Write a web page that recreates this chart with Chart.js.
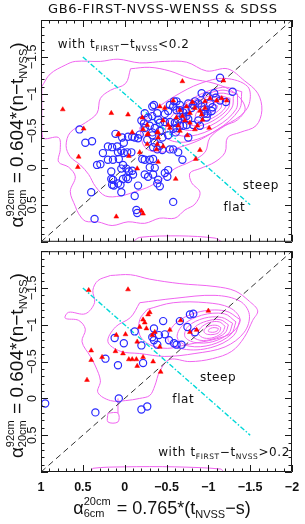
<!DOCTYPE html>
<html>
<head>
<meta charset="utf-8">
<script src="https://cdn.jsdelivr.net/npm/chart.js@4.4.1/dist/chart.umd.min.js"></script>
<style>
  body { margin: 0; background: #fff; }
  #wrap { position: relative; width: 305px; height: 524px; }
  canvas { position: absolute; left: 0; }
  #top { top: 0; }
  #bot { top: 246px; }
</style>
</head>
<body>
<div id="wrap">
  <canvas id="top" width="305" height="247"></canvas>
  <canvas id="bot" width="305" height="278"></canvas>
</div>
<script>
// ---- data (x = alpha 6cm-20cm, y = alpha 20cm-92cm) ----
const xTickValues = [1, 0.5, 0, -0.5, -1, -1.5, -2]
const xTickLabels = ['1', '0.5', '0', '\u22120.5', '\u22121', '\u22121.5', '\u22122']
const yTickValues = [-1.5, -1, -0.5, 0, 0.5]
const yTickLabels = ['\u22121.5', '\u22121', '\u22120.5', '0', '0.5']

const diagonal = [[1, 1], [-2, -2]]
const cutLine = [[0.5, -1.5], [-1.5, 0.5]]

// top panel: t_FIRST - t_NVSS < 0.2
const topBlue = [
  [-1.14,-1.22],[-1.29,-1.03],[-0.92,-1.01],[-0.98,-0.97],[-1.07,-1.01],[-1.09,-0.95],[-1.14,-0.91],[-1.21,-0.89],
  [-1.02,-0.87],[-1.05,-0.82],[-1.04,-0.77],[-0.99,-0.73],[-0.98,-0.68],[-0.95,-0.79],[-0.95,-0.73],[-0.88,-0.87],
  [-0.92,-0.83],[-0.84,-0.90],[-0.82,-0.85],[-0.76,-0.87],[-0.80,-0.81],[-0.88,-0.64],[-0.82,-0.58],[-0.90,-0.57],
  [-0.59,-0.90],[-0.62,-0.90],[-0.54,-0.85],[-0.58,-0.83],[-0.66,-0.85],[-0.62,-0.78],[-0.35,-0.85],[-0.39,-0.74],
  [-0.33,-0.70],[-0.48,-0.73],[-0.52,-0.77],[-0.66,-0.78],[-0.70,-0.75],[-0.73,-0.78],[-0.74,-0.70],[-0.70,-0.69],
  [-0.76,-0.66],[-0.74,-0.58],[-0.70,-0.57],[-0.66,-0.57],[-0.62,-0.54],[-0.58,-0.53],[-0.60,-0.61],[-0.64,-0.65],
  [-0.54,-0.62],[-0.48,-0.62],[-0.42,-0.61],[-0.40,-0.65],[-0.28,-0.68],[-0.20,-0.64],[-0.23,-0.60],[-0.24,-0.74],
  [-0.33,-0.83],[-0.24,-0.54],[-0.30,-0.57],[-0.36,-0.54],[-0.42,-0.50],[-0.33,-0.48],[-0.45,-0.41],[-0.52,-0.44],
  [-0.61,-0.48],[-0.76,-0.41],[-0.58,-0.25],[-0.69,-0.11],
  [0.54,-0.52],[0.47,-0.34],[0.39,-0.36],[0.33,-0.04],[0.29,-0.05],[0.26,-0.20],[0.20,-0.29],[0.15,-0.28],
  [0.20,-0.11],[0.14,-0.11],[0.07,-0.12],[0.11,-0.46],[0.09,-0.29],[0.08,-0.21],[0.04,-0.23],[0.01,-0.20],
  [-0.03,-0.21],[-0.08,-0.21],[0.03,-0.41],[0.01,-0.34],[0.04,0.01],[0.02,-0.04],[-0.02,0.01],[-0.05,0.05],
  [-0.09,0.04],[-0.10,0.09],[0.16,0.05],[0.16,0.15],[0.14,0.16],[0.15,0.23],[0.13,0.24],[0.08,0.21],
  [0.05,0.23],[0.04,0.33],[0.02,0.15],[-0.02,0.13],[-0.04,0.15],[-0.16,0.24],[-0.12,0.38],[0.40,0.33],
  [0.36,0.69],[-0.14,0.57],[-0.15,0.61],[-0.21,-0.12],[-0.24,-0.11],[-0.30,-0.11],[-0.34,-0.12],[-0.30,-0.01],
  [-0.36,0.00],[-0.34,0.09],[-0.40,0.16],[-0.39,0.21],[-0.24,0.09],[-0.28,0.12],[-0.09,-0.42],[-0.12,-0.41],
  [-0.04,-0.42],[-0.16,-0.40],[-0.18,-0.45],[-0.27,-0.38],[-0.33,-0.44],[-0.36,-0.34],[-0.34,-0.28],[-0.39,-0.25],
  [-0.42,-0.30],[-0.45,-0.24],[-0.54,-0.25],[-0.64,-0.21],[-0.52,0.03],[-0.51,0.12],[-0.48,0.07],[-0.42,0.25],
  [-0.58,0.46]
]
const topRed = [
  [-0.69,-1.17],[-1.18,-1.18],[0.74,-0.79],[0.16,-0.74],[-0.04,-0.72],[0.49,-0.53],[0.07,-0.46],[-0.21,-0.68],
  [-0.22,-0.52],[-0.28,-0.46],[-0.27,-0.58],[-0.42,-0.83],[-0.48,-0.81],[-0.58,-0.91],[-0.46,-0.64],[-0.52,-0.58],
  [-0.40,-0.48],[-0.64,-0.57],[-0.66,-0.78],[-0.74,-0.83],[-0.78,-0.74],[-0.84,-0.81],[-0.90,-0.77],[-0.92,-0.72],
  [-0.96,-0.81],[-0.69,-0.70],[-0.62,-0.68],[-0.72,-0.64],[-0.78,-0.61],[-0.84,-0.52],[-0.87,-0.57],[-0.75,-0.44],
  [-1.02,-0.94],[-1.10,-0.91],[-0.96,-0.90],[-0.81,-0.89],[-1.16,-0.94],[-1.22,-0.91],[0.55,-0.15],[0.56,-0.01],
  [0.08,-0.45],[-0.27,-0.45],[-0.39,-0.48],[-0.40,-0.41],[-0.27,-0.32],[-0.38,-0.25],[-0.39,-0.32],[-0.18,-0.21],
  [-0.05,-0.16],[-0.15,0.01],[-0.40,-0.08],[-0.20,0.58],[-0.22,0.62],[0.10,0.66],[-0.61,0.15],[-0.90,-0.24],
  [-0.85,-0.12],[-1.01,-0.54],[-0.09,-0.48],[-0.66,-0.50],[-0.54,-0.54],[-0.93,-0.65],[-0.46,-0.29]
]
const topContours = [
  [[0.99,-1.10],[0.89,-1.27],[0.71,-1.39],[0.59,-1.44],[0.29,-1.44],[0.08,-1.47],[-0.18,-1.42],[-0.48,-1.44],
   [-0.74,-1.43],[-0.98,-1.31],[-1.23,-1.34],[-1.43,-1.18],[-1.59,-1.01],[-1.64,-0.78],[-1.57,-0.57],[-1.38,-0.48],
   [-1.23,-0.41],[-1.20,-0.21],[-1.08,-0.08],[-0.90,0.01],[-0.78,0.07],[-0.80,0.20],[-0.90,0.33],[-0.84,0.49],
   [-0.72,0.57],[-0.60,0.68],[-0.42,0.68],[-0.24,0.75],[-0.04,0.73],[0.15,0.78],[0.32,0.73],[0.47,0.72],
   [0.55,0.62],[0.59,0.52],[0.65,0.32],[0.59,0.12],[0.67,-0.01],[0.79,-0.08],[0.77,-0.25],[0.79,-0.41],
   [0.98,-0.41],[0.99,-0.87]],
  [[-0.07,-1.34],[-0.30,-1.36],[-0.54,-1.31],[-0.78,-1.21],[-1.08,-1.14],[-1.32,-1.01],[-1.44,-0.81],[-1.35,-0.65],
   [-1.20,-0.57],[-1.02,-0.41],[-0.96,-0.21],[-0.78,-0.08],[-0.60,0.01],[-0.48,0.12],[-0.30,0.25],[-0.13,0.32],
   [0.05,0.38],[0.23,0.38],[0.35,0.25],[0.43,0.09],[0.53,-0.04],[0.65,-0.15],[0.70,-0.30],[0.65,-0.48],
   [0.47,-0.61],[0.33,-0.74],[0.29,-0.94],[0.17,-1.05],[-0.01,-1.14]],
  [[-0.18,-0.54],[-0.36,-0.78],[-0.60,-0.97],[-0.90,-1.14],[-1.20,-1.21],[-1.47,-1.10],[-1.49,-0.87],[-1.38,-0.70],
   [-1.14,-0.54],[-0.90,-0.38],[-0.66,-0.28],[-0.42,-0.21],[-0.24,-0.28]],
  [[-1.40,-1.03],[-1.17,-1.09],[-0.80,-0.93],[-0.53,-0.65],[-0.50,-0.41],[-0.73,-0.35],[-1.10,-0.51],[-1.37,-0.79]],
  [[-1.35,-1.00],[-1.15,-1.05],[-0.84,-0.92],[-0.61,-0.69],[-0.59,-0.48],[-0.79,-0.43],[-1.10,-0.56],[-1.33,-0.79]],
  [[-1.30,-0.98],[-1.14,-1.01],[-0.89,-0.91],[-0.70,-0.71],[-0.68,-0.54],[-0.84,-0.51],[-1.09,-0.61],[-1.28,-0.81]],
  [[-1.26,-0.94],[-1.12,-0.97],[-0.93,-0.88],[-0.78,-0.73],[-0.76,-0.60],[-0.90,-0.57],[-1.09,-0.66],[-1.24,-0.81]],
  [[-1.21,-0.91],[-1.12,-0.93],[-0.97,-0.86],[-0.86,-0.75],[-0.85,-0.65],[-0.94,-0.63],[-1.09,-0.70],[-1.20,-0.81]],
  [[-1.16,-0.87],[-1.09,-0.89],[-1.00,-0.84],[-0.93,-0.77],[-0.93,-0.71],[-0.99,-0.69],[-1.08,-0.74],[-1.15,-0.81]],
  [[-1.11,-0.84],[-1.08,-0.85],[-1.03,-0.83],[-1.00,-0.79],[-0.99,-0.76],[-1.02,-0.75],[-1.07,-0.77],[-1.10,-0.80]]
]
const topOpenContours = [
  [[-0.10,1.0],[-0.18,0.94],[-0.66,0.92],[-1.08,0.95],[-1.16,1.0]]
]

// bottom panel: t_FIRST - t_NVSS > 0.2
const botBlue = [
  [0.12,-0.82],[0.01,-0.75],[-0.12,-0.91],[0.23,-0.54],[0.08,-0.45],[-0.22,-0.48],[-0.20,-0.72],[-0.33,-0.83],
  [-0.35,-0.95],[-0.41,-0.86],[-0.46,-1.05],[-0.35,-0.79],[-0.39,-0.73],[-0.48,-0.87],[-0.53,-0.79],[-0.59,-0.75],
  [-0.62,-0.73],[-0.68,-0.73],[-0.66,-1.05],[-0.75,-0.97],[-0.78,-1.14],[-0.82,-1.15],[-0.84,-0.90],[0.95,0.07],
  [0.35,0.19],[0.07,0.00],[-0.20,0.15],[-0.27,0.11]
]
const botRed = [
  [0.43,-1.47],[-0.04,-1.48],[-0.22,-1.07],[-0.24,-1.03],[-0.28,-1.14],[-0.30,-1.17],[-0.18,-0.97],[-0.26,-0.95],
  [0.10,-0.86],[-0.01,-0.87],[-0.15,-0.77],[-0.33,-0.86],[-0.36,-0.90],[0.40,-0.65],[0.40,-0.52],[0.27,-0.56],
  [0.11,-0.64],[0.02,-0.61],[-0.05,-0.53],[-0.09,-0.53],[-0.15,-0.44],[-0.22,-0.56],[-0.34,-0.50],[-0.43,-0.36],
  [-0.67,-1.06],[-0.78,-0.90],[-0.86,-0.93],[-1.00,-1.19],[0.45,-0.25],[-0.14,-0.53],[-0.54,-0.93],[-0.42,-0.70]
]
const botContours = [
  [[0.17,-1.67],[-0.07,-1.68],[-0.30,-1.62],[-0.66,-1.56],[-1.08,-1.52],[-1.32,-1.46],[-1.49,-1.32],[-1.59,-1.19],
   [-1.53,-1.06],[-1.43,-0.83],[-1.28,-0.64],[-1.05,-0.54],[-0.78,-0.50],[-0.54,-0.53],[-0.42,-0.37],[-0.36,-0.17],
   [-0.30,-0.04],[-0.18,0.00],[-0.01,0.03],[0.17,0.03],[0.32,-0.08],[0.29,-0.24],[0.35,-0.44],[0.41,-0.57],
   [0.51,-0.77],[0.47,-0.94],[0.55,-1.06],[0.71,-1.09],[0.67,-1.17],[0.47,-1.15],[0.36,-1.30],[0.38,-1.47],
   [0.32,-1.60]],
  [[0.20,0.20],[0.08,0.20],[0.08,0.32],[0.20,0.32]],
  [[-0.18,-1.30],[-0.60,-1.36],[-1.08,-1.40],[-1.38,-1.32],[-1.49,-1.14],[-1.43,-0.90],[-1.20,-0.70],[-0.84,-0.61],
   [-0.48,-0.57],[-0.18,-0.61],[0.05,-0.64],[0.20,-0.77],[0.11,-0.97],[-0.07,-1.10]],
  [[-0.27,-1.21],[-0.58,-1.30],[-0.98,-1.30],[-1.26,-1.23],[-1.38,-1.07],[-1.29,-0.90],[-1.10,-0.81],[-0.74,-0.73],
   [-0.51,-0.68],[-0.30,-0.73],[-0.18,-0.86],[-0.18,-1.07]],
  [[-1.38,-1.07],[-1.20,-1.19],[-0.87,-1.17],[-0.60,-1.01],[-0.52,-0.79],[-0.70,-0.67],[-1.03,-0.69],[-1.30,-0.85]],
  [[-1.33,-1.04],[-1.19,-1.15],[-0.92,-1.13],[-0.69,-0.99],[-0.63,-0.82],[-0.77,-0.71],[-1.04,-0.73],[-1.27,-0.87]],
  [[-1.29,-1.02],[-1.16,-1.10],[-0.95,-1.09],[-0.76,-0.98],[-0.72,-0.84],[-0.84,-0.76],[-1.05,-0.77],[-1.24,-0.88]],
  [[-1.24,-1.00],[-1.14,-1.07],[-0.98,-1.05],[-0.84,-0.97],[-0.80,-0.86],[-0.90,-0.79],[-1.06,-0.81],[-1.20,-0.89]],
  [[-1.20,-0.98],[-1.13,-1.04],[-1.01,-1.03],[-0.91,-0.96],[-0.88,-0.88],[-0.95,-0.82],[-1.07,-0.83],[-1.17,-0.90]],
  [[-1.15,-0.96],[-1.11,-0.99],[-1.03,-0.99],[-0.96,-0.95],[-0.95,-0.90],[-0.99,-0.87],[-1.07,-0.87],[-1.13,-0.90]],
  [[-1.12,-0.95],[-1.09,-0.96],[-1.05,-0.96],[-1.01,-0.94],[-1.00,-0.91],[-1.03,-0.90],[-1.07,-0.90],[-1.11,-0.92]]
]
const botOpenContours = [
  [[0.40,1.0],[0.38,0.95],[0.0,0.93],[-0.60,0.93],[-1.15,0.96],[-1.18,1.0]],
  [[0.08,0.00],[0.08,0.20]]
]

// ---- drawing ----
const FONT = 'DejaVu Sans'
const TXT = 'Liberation Sans'
const pts = arr => arr.map(([x, y]) => ({ x, y }))

function richWidth(ctx, parts) {
  let w = 0
  for (const p of parts) {
    ctx.font = `${p.w || 'normal'} ${p.size}px ${p.f || TXT}`
    if (p.sup !== undefined) w += Math.max(ctx.measureText(p.sup).width, ctx.measureText(p.sub).width) + 1
    else w += ctx.measureText(p.t).width
  }
  return w
}

function drawRich(ctx, parts, x, y, center) {
  let cx = center ? x - richWidth(ctx, parts) / 2 : x
  for (const p of parts) {
    ctx.font = `${p.w || 'normal'} ${p.size}px ${p.f || TXT}`
    if (p.sup !== undefined) {
      ctx.fillText(p.sup, cx, y - p.size * 0.8)
      ctx.fillText(p.sub, cx, y + p.size * 0.25)
      cx += Math.max(ctx.measureText(p.sup).width, ctx.measureText(p.sub).width) + 1
    } else {
      ctx.fillText(p.t, cx, y + (p.dy || 0))
      cx += ctx.measureText(p.t).width
    }
  }
}

const yTitle = [
  { t: '\u03b1', size: 19 },
  { sup: '92cm', sub: '20cm', size: 11 },
  { t: ' = 0.604*(n\u2212t', size: 19 },
  { t: 'NVSS', size: 11, dy: 4 },
  { t: ')', size: 19 }
]
const xTitle = [
  { t: '\u03b1', size: 18 },
  { sup: '20cm', sub: '6cm', size: 11 },
  { t: ' = 0.765*(t', size: 18 },
  { t: 'NVSS', size: 11, dy: 4 },
  { t: '\u2212s)', size: 18 }
]
const noteTop = [
  { t: 'with t', size: 12, f: FONT },
  { t: 'FIRST', size: 7.5, f: FONT, dy: 3 },
  { t: '\u2212t', size: 12, f: FONT },
  { t: 'NVSS', size: 7.5, f: FONT, dy: 3 },
  { t: '<0.2', size: 12, f: FONT }
]
const noteBot = noteTop.slice(0, 4).concat([{ t: '>0.2', size: 12, f: FONT }])

const framePlugin = {
  id: 'frame',
  afterDraw(chart, args, o) {
    const { ctx, chartArea: a, scales: { x, y } } = chart
    ctx.save()
    ctx.strokeStyle = '#1a1a1a'
    ctx.lineWidth = 1
    ctx.beginPath()
    ctx.rect(a.left + 0.5, a.top + 0.5, a.right - a.left - 1, a.bottom - a.top - 1)
    for (let i = -20; i <= 10; i++) {
      const px = Math.round(x.getPixelForValue(i / 10)) + 0.5
      const len = i % 5 === 0 ? 7 : 3.5
      ctx.moveTo(px, a.top); ctx.lineTo(px, a.top + len)
      ctx.moveTo(px, a.bottom); ctx.lineTo(px, a.bottom - len)
    }
    for (let i = -20; i <= 10; i++) {
      const py = Math.round(y.getPixelForValue(i / 10)) + 0.5
      const len = i % 5 === 0 ? 7 : 3.5
      ctx.moveTo(a.left, py); ctx.lineTo(a.left + len, py)
      ctx.moveTo(a.right, py); ctx.lineTo(a.right - len, py)
    }
    ctx.stroke()

    ctx.fillStyle = '#111'
    // y tick labels, rotated
    ctx.font = `12.5px ${TXT}`
    ctx.textAlign = 'center'
    ctx.textBaseline = 'alphabetic'
    yTickValues.forEach((v, i) => {
      ctx.save()
      ctx.translate(a.left - 5, y.getPixelForValue(v))
      ctx.rotate(-Math.PI / 2)
      ctx.fillText(yTickLabels[i], 0, 0)
      ctx.restore()
    })
    // y title, rotated
    ctx.textAlign = 'left'
    ctx.save()
    ctx.translate(23, (a.top + a.bottom) / 2 + 4)
    ctx.rotate(-Math.PI / 2)
    drawRich(ctx, yTitle, 0, 0, true)
    ctx.restore()

    if (o.panel === 'bot') {
      ctx.font = `bold 12.5px ${TXT}`
      ctx.textAlign = 'center'
      xTickValues.forEach((v, i) => {
        ctx.fillText(xTickLabels[i], x.getPixelForValue(v), a.bottom + 19)
      })
      ctx.textAlign = 'left'
      drawRich(ctx, xTitle, 162, a.bottom + 42, true)
    } else {
      ctx.font = `13px ${FONT}`
      ctx.textAlign = 'left'
      const title = 'GB6-FIRST-NVSS-WENSS & SDSS'
      const nat = ctx.measureText(title).width
      ctx.letterSpacing = ((229 - nat) / (title.length - 1)).toFixed(2) + 'px'
      ctx.fillText(title, 48, 13)
      ctx.letterSpacing = '0px'
    }

    // notes
    ctx.textAlign = 'left'
    ctx.letterSpacing = '0.6px'
    for (const n of o.notes) {
      const px = x.getPixelForValue(n.x), py = y.getPixelForValue(n.y)
      if (n.rich) drawRich(ctx, n.rich, px, py, false)
      else { ctx.font = `12px ${FONT}`; ctx.fillText(n.t, px, py) }
    }
    ctx.restore()
  }
}

function buildDatasets(blue, red, contours, open) {
  const sets = [
    { data: pts(red), pointStyle: 'triangle', pointRadius: 2.8, borderWidth: 0.5,
      borderColor: '#ff0000', backgroundColor: '#ff0000', order: 0 },
    { data: pts(blue), pointStyle: 'circle', pointRadius: 3.6, borderWidth: 1.2,
      borderColor: '#2a2aff', backgroundColor: 'rgba(0,0,0,0)', order: 0 },
    { data: pts(diagonal), showLine: true, borderColor: '#333', borderDash: [6, 4], borderWidth: 1,
      pointRadius: 0, order: 1 },
    { data: pts(cutLine), showLine: true, borderColor: '#00d8d8', borderDash: [5, 2, 1.5, 2], borderWidth: 1.4,
      pointRadius: 0, order: 1 }
  ]
  contours.forEach(c => sets.push({ data: pts(c.concat([c[0]])), showLine: true, borderColor: '#f064f0',
    borderWidth: 1, pointRadius: 0, tension: 0.35, order: 2 }))
  open.forEach(c => sets.push({ data: pts(c), showLine: true, borderColor: '#f064f0',
    borderWidth: 1, pointRadius: 0, tension: 0.3, order: 2 }))
  return sets
}

function makeChart(id, blue, red, contours, open, padding, frame) {
  return new Chart(document.getElementById(id), {
    type: 'scatter',
    data: { datasets: buildDatasets(blue, red, contours, open) },
    options: {
      responsive: false,
      animation: false,
      events: [],
      layout: { padding },
      scales: {
        x: { type: 'linear', min: -2, max: 1, reverse: true, display: false },
        y: { type: 'linear', min: -2, max: 1, reverse: true, display: false }
      },
      plugins: { legend: { display: false }, tooltip: { enabled: false }, frame }
    },
    plugins: [framePlugin]
  })
}

makeChart('top', topBlue, topRed, topContours, topOpenContours,
  { left: 41, right: 13, top: 20, bottom: 1 },
  { panel: 'top', notes: [
    { rich: noteTop, x: 0.80, y: -1.62 },
    { t: 'steep', x: -1.41, y: 0.28 },
    { t: 'flat', x: -1.18, y: 0.58 }
  ] })

makeChart('bot', botBlue, botRed, botContours, botOpenContours,
  { left: 41, right: 13, top: 1, bottom: 52 },
  { panel: 'bot', notes: [
    { t: 'steep', x: -0.90, y: -0.23 },
    { t: 'flat', x: -0.57, y: 0.06 },
    { rich: noteBot, x: -0.40, y: 0.78 }
  ] })
</script>
</body>
</html>
